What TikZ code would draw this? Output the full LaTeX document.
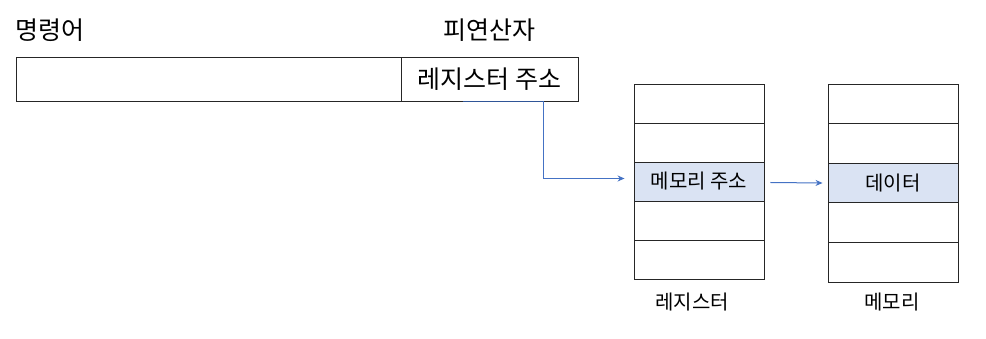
\documentclass[tikz,border=0pt]{standalone}
\usepackage{fontspec}
\setmainfont{Noto Sans CJK KR}
\usetikzlibrary{arrows.meta,positioning}
\definecolor{hl}{HTML}{DAE3F3}
\definecolor{conncol}{HTML}{4472C4}
\definecolor{undercol}{HTML}{2F5597}
\tikzset{
  cell/.style={draw=black!85, line width=0.9pt, fill=white, inner sep=0pt, minimum width=130pt, font=\fontsize{20}{23}\selectfont},
  hlcell/.style={cell, fill=hl},
  instr/.style={draw=black!85, line width=0.9pt, inner sep=0pt, minimum height=44pt, font=\fontsize{25}{28}\selectfont},
  biglabel/.style={font=\fontsize{25}{28}\selectfont, inner sep=0pt},
  smalllabel/.style={font=\fontsize{20}{23}\selectfont, inner sep=0pt},
  conn/.style={draw=conncol, line width=1pt, -{Stealth[length=7pt,width=6pt]}}
}
\begin{document}
\begin{tikzpicture}[x=1pt,y=-1pt]
\useasboundingbox (0,0) rectangle (986,339);
% top labels
\node[biglabel, anchor=west] (lop) at (15,30) {명령어};
\node[biglabel] (lopd) at (489,30) {피연산자};
% instruction bar
\node[instr, minimum width=385pt] (opc) at (208.5,79) {};
\node[instr, minimum width=177pt] (opd) at (489.5,79) {레지스터 주소};
% register column
\node[cell, minimum height=39pt] (r1) at (699,103.5) {};
\node[cell, minimum height=39pt] (r2) at (699,142.5) {};
\node[hlcell, minimum height=39pt] (r3) at (699,181.5) {메모리 주소};
\node[cell, minimum height=39pt] (r4) at (699,220.5) {};
\node[cell, minimum height=39pt] (r5) at (699,259.5) {};
% memory column
\node[cell, minimum height=39.6pt] (m1) at (893,103.8) {};
\node[cell, minimum height=39.6pt] (m2) at (893,143.4) {};
\node[hlcell, minimum height=39.6pt] (m3) at (893,183.0) {데이터};
\node[cell, minimum height=39.6pt] (m4) at (893,222.6) {};
\node[cell, minimum height=39.6pt] (m5) at (893,262.2) {};
% bottom labels
\node[smalllabel] (lreg) at (692,302) {레지스터};
\node[smalllabel] (lmem) at (892,302) {메모리};
% connectors
\draw[draw=undercol, line width=1.4pt] ([xshift=-27pt]opd.south) -- ([xshift=54pt]opd.south);
\draw[conn] ([xshift=54pt]opd.south) |- ([xshift=-9pt,yshift=3pt]r3.west);
\draw[conn] ([xshift=6pt,yshift=-1pt]r3.east) -- ([xshift=-5pt]m3.west);
\end{tikzpicture}
\end{document}
